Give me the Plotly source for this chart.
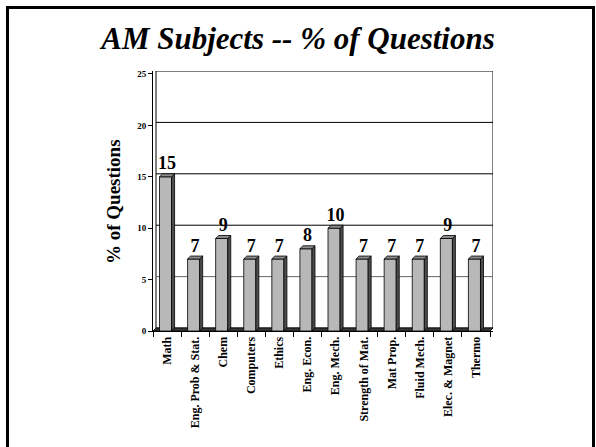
import plotly.graph_objects as go

# ---- data ----
categories = ["Math", "Eng. Prob & Stat.", "Chem", "Computers", "Ethics", "Eng. Econ.",
              "Eng. Mech.", "Strength of Mat.", "Mat Prop.", "Fluid Mech.",
              "Elec. & Magnet", "Thermo"]
percent = [15, 7, 9, 7, 7, 8, 10, 7, 7, 7, 9, 7]
y_ticks = [0, 5, 10, 15, 20, 25]

# ---- geometry / style ----
W_FIG, H_FIG = 596, 447
L, R, T, B = 153, 103, 71, 116
n = len(categories)
dx = 0.107   # 3D depth in x (category units)
dy = 0.29    # 3D depth in y (value units)
bw = 0.43    # bar front width
serif = "Liberation Serif"

PW = W_FIG - L - R
PH = H_FIG - T - B
def px_x(p):
    return (p - L) / PW
def px_y(p):
    return (H_FIG - p - B) / PH

xs = list(range(n))

fig = go.Figure()

# front faces
fig.add_trace(go.Bar(
    x=xs, y=percent, width=bw, offset=-(bw + dx) / 2,
    marker=dict(color="#B8B8B8", line=dict(color="black", width=0.8)),
    hoverinfo="skip", showlegend=False))

# side faces and top faces
sx, sy, tx, ty = [], [], [], []
for i, v in zip(xs, percent):
    xl = i - (bw + dx) / 2
    xr = xl + bw
    sx += [xr, xr + dx, xr + dx, xr, xr, None]
    sy += [0, dy, v + dy, v, 0, None]
    tx += [xl, xl + dx, xr + dx, xr, xl, None]
    ty += [v, v + dy, v + dy, v, v, None]
fig.add_trace(go.Scatter(x=sx, y=sy, mode="lines", fill="toself", fillcolor="#4D4D4D",
                         line=dict(color="black", width=0.8), hoverinfo="skip", showlegend=False))
fig.add_trace(go.Scatter(x=tx, y=ty, mode="lines", fill="toself", fillcolor="#8C8C8C",
                         line=dict(color="black", width=0.8), hoverinfo="skip", showlegend=False))

# value labels
fig.add_trace(go.Scatter(
    x=xs, y=[v + dy for v in percent], mode="text",
    text=[str(v) for v in percent], textposition="top center",
    textfont=dict(family=serif, size=18, color="black", weight="bold"),
    hoverinfo="skip", showlegend=False, cliponaxis=False))

shapes = []
x0b, x1b = -0.5 + dx, n - 0.5 + dx
# back wall
shapes.append(dict(type="rect", xref="x", yref="y", x0=x0b, x1=x1b, y0=dy, y1=25 + dy,
                   line=dict(color="black", width=1), fillcolor="white", layer="below"))
# gridlines on back wall
for t in y_ticks[1:-1]:
    shapes.append(dict(type="line", xref="x", yref="y", x0=x0b, x1=x1b, y0=t + dy, y1=t + dy,
                       line=dict(color="#666666" if t == 5 else "black", width=1), layer="below"))
# floor
shapes.append(dict(type="path", xref="x", yref="y",
                   path=f"M {-0.5},0 L {n-0.5},0 L {n-0.5+dx},{dy} L {-0.5+dx},{dy} Z",
                   fillcolor="#3A3A3A", line=dict(color="black", width=0.8), layer="below"))
# slide border
shapes.append(dict(type="rect", xref="paper", yref="paper",
                   x0=px_x(7.5), x1=px_x(593.5), y0=px_y(460), y1=px_y(7.5),
                   line=dict(color="black", width=3), fillcolor="rgba(0,0,0,0)"))

fig.update_layout(
    width=W_FIG, height=H_FIG,
    margin=dict(l=L, r=R, t=T, b=B),
    paper_bgcolor="white", plot_bgcolor="rgba(0,0,0,0)",
    shapes=shapes,
    title=dict(text="<b><i>AM Subjects -- % of Questions</i></b>",
               x=0.5, xanchor="center", xref="container",
               y=1 - 38 / H_FIG, yanchor="middle", yref="container",
               font=dict(family=serif, size=31, color="black")),
    xaxis=dict(range=[-0.5, n - 0.5 + dx], tickmode="array", tickvals=xs, ticktext=categories,
               tickangle=-90, ticks="", showgrid=False, zeroline=False,
               showline=True, linecolor="black", linewidth=1,
               tickfont=dict(family=serif, size=12, color="black", weight="bold"),
               minor=dict(tickmode="array", tickvals=[i - 0.5 for i in range(n + 1)],
                          ticks="outside", ticklen=5, tickcolor="black", tickwidth=1,
                          showgrid=False)),
    yaxis=dict(range=[0, 25 + dy], tickmode="array", tickvals=y_ticks,
               ticks="outside", ticklen=4, tickcolor="black", showgrid=False, zeroline=False,
               showline=True, linecolor="black", linewidth=1,
               tickfont=dict(family=serif, size=9, color="black", weight="bold")),
    annotations=[dict(text="<b>% of Questions</b>", textangle=-90,
                      x=px_x(113), y=px_y(202), xref="paper", yref="paper",
                      xanchor="center", yanchor="middle", showarrow=False,
                      font=dict(family=serif, size=19, color="black"))],
)

fig.write_html("out.html", config={"displayModeBar": False},
               post_script="document.body.style.margin='0';")
